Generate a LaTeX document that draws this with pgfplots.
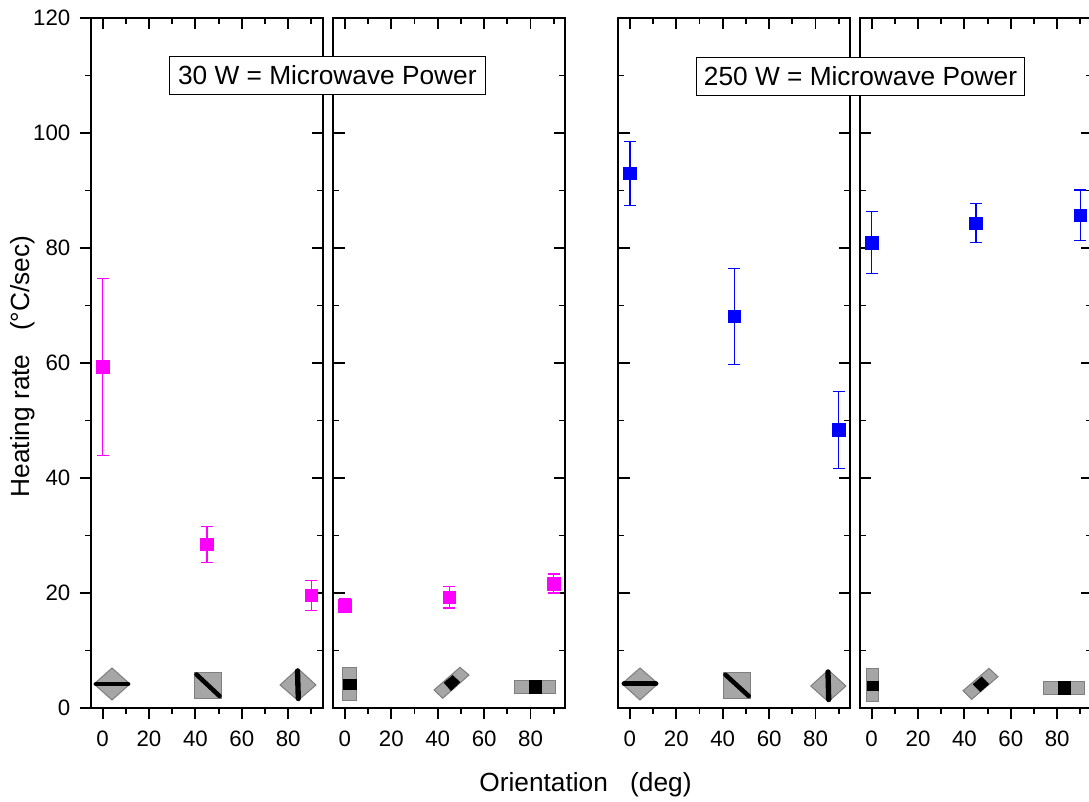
\documentclass[border=0pt]{standalone}
\usepackage{pgfplots}
\pgfplotsset{compat=1.18}
\usepackage{fontspec}
\setmainfont{Liberation Sans}
\newcommand{\bigf}{\fontsize{16.7}{19}\selectfont}
\newcommand{\largef}{\fontsize{19.7}{22}\selectfont}
\definecolor{iconfill}{HTML}{A6A6A6}
\definecolor{iconedge}{HTML}{7F7F7F}
\definecolor{mag}{RGB}{255,0,255}
\definecolor{blu}{RGB}{0,0,255}
\pgfplotsset{
  panelbase/.style={
    scale only axis, width=174pt, height=517.5pt,
    xmin=-5, xmax=95, ymin=0, ymax=120,
    xtick={0,20,40,60,80}, minor xtick={10,30,50,70,90},
    ytick={0,20,40,60,80,100,120}, minor ytick={10,30,50,70,90,110},
    major tick length=8.5pt, minor tick length=4.4pt,
    tick style={black, line width=1.4pt},
    major tick style={black, line width=1.4pt},
    minor tick style={black, line width=1.4pt},
    axis line style={black, line width=1.5pt},
    /pgf/number format/assume math mode=true,
    tick label style={font=\bigf},
    xticklabel style={yshift=-5pt},
    clip=false,
  },
  ticksA/.style={panelbase, xtick pos=bottom, xtick align=outside, ytick pos=left},
  ticksB/.style={panelbase, xtick pos=top, xtick align=inside, ytick pos=right, ytick align=inside,
    xticklabels={}, yticklabels={}},
  pts/.style={only marks, mark=square*, color=#1, draw=#1, fill=#1, mark size=4.7pt,
    mark options={draw=#1, fill=#1},
    error bars/.cd, y dir=both, y explicit,
    error bar style={line width=0.9pt, draw=#1, color=#1},
    error mark options={rotate=90, mark size=4.5pt, line width=0.9pt, draw=#1, color=#1}},
  icon/.style={fill=iconfill, draw=iconedge, line width=0.75pt},
  bar/.style={black, line width=#1, line cap=round},
  blk/.style={fill=black, draw=black, line width=0.2pt},
}
\begin{document}
\begin{tikzpicture}
\path[use as bounding box] (0,0) rectangle (816.75pt,600.75pt);
% Panel 1
\begin{axis}[ticksB, at={(68.25pt,69.75pt)}] \end{axis}
\begin{axis}[ticksA, at={(68.25pt,69.75pt)}, ytick align=outside, yticklabel style={xshift=-3.5pt}]
\addplot[pts=mag] coordinates {(0,59.3) +- (0,15.45) (45,28.45) +- (0,3.15) (90,19.6) +- (0,2.6)};
\end{axis}
% Panel 2
\begin{axis}[ticksB, at={(250pt,69.75pt)}] \end{axis}
\begin{axis}[ticksA, at={(250pt,69.75pt)}, ytick align=inside, yticklabels={}]
\addplot[pts=mag] coordinates {(0,17.8) +- (0,1.25) (45,19.25) +- (0,1.85) (90,21.65) +- (0,1.65)};
\end{axis}
% Panel 3
\begin{axis}[ticksB, at={(463.75pt,69.75pt)}] \end{axis}
\begin{axis}[ticksA, at={(463.75pt,69.75pt)}, ytick align=inside, yticklabels={}]
\addplot[pts=blu] coordinates {(0,93) +- (0,5.55) (45,68.1) +- (0,8.4) (90,48.35) +- (0,6.65)};
\end{axis}
% Panel 4
\begin{axis}[ticksB, at={(645pt,69.75pt)}] \end{axis}
\begin{axis}[ticksA, at={(645pt,69.75pt)}, ytick align=inside, yticklabels={}]
\addplot[pts=blu] coordinates {(0,80.95) +- (0,5.45) (45,84.3) +- (0,3.4) (90,85.7) +- (0,4.4)};
\end{axis}
% Overlay in picture pixels: orientation icons and text
\begin{axis}[scale only axis, width=816.75pt, height=600.75pt, at={(0pt,0pt)},
  hide axis, xmin=0, xmax=1089, ymin=0, ymax=801, y dir=reverse, clip=false]
% panel 1 icons
\addplot[icon] coordinates {(94,684) (112,668) (130,684) (112,700)} -- cycle;
\addplot[bar=3.4pt] coordinates {(96,684) (128,684)};
\addplot[icon] coordinates {(194.5,672.7) (221.3,672.7) (221.3,698) (194.5,698)} -- cycle;
\addplot[bar=3.4pt] coordinates {(196.5,674.5) (219.5,696)};
\addplot[icon] coordinates {(280,685) (298,668.5) (316,685) (298,700.5)} -- cycle;
\addplot[bar=4pt] coordinates {(297.5,671) (298.3,698.5)};
% panel 2 icons
\addplot[icon] coordinates {(342.7,667.5) (356,667.5) (356,700) (342.7,700)} -- cycle;
\addplot[blk] coordinates {(343,679.3) (355.7,679.3) (355.7,689.3) (343,689.3)} -- cycle;
\addplot[icon] coordinates {(460,667.3) (469,675) (442.7,698.3) (434,690)} -- cycle;
\addplot[blk] coordinates {(452.7,675.3) (460,682.3) (451,690.7) (444,682.7)} -- cycle;
\addplot[icon] coordinates {(514,680.3) (555.3,680.3) (555.3,693.3) (514,693.3)} -- cycle;
\addplot[blk] coordinates {(528.7,680.6) (541,680.6) (541,693) (528.7,693)} -- cycle;
% panel 3 icons
\addplot[icon] coordinates {(622,683.7) (640,668) (658,683.7) (640,700)} -- cycle;
\addplot[bar=3.4pt] coordinates {(624,683.7) (656,683.7)};
\addplot[icon] coordinates {(723.3,672.7) (750.7,672.7) (750.7,698) (723.3,698)} -- cycle;
\addplot[bar=3.4pt] coordinates {(725.5,674.8) (748.7,696)};
\addplot[icon] coordinates {(810.7,686) (828.3,670) (846,686) (828.3,701.7)} -- cycle;
\addplot[bar=4pt] coordinates {(828,672) (828.7,699.5)};
% panel 4 icons
\addplot[icon] coordinates {(866.5,668.7) (878.7,668.7) (878.7,701.3) (866.5,701.3)} -- cycle;
\addplot[blk] coordinates {(866.8,680.7) (878.4,680.7) (878.4,690) (866.8,690)} -- cycle;
\addplot[icon] coordinates {(989,668.3) (998,676.7) (971.7,699.3) (963,690.7)} -- cycle;
\addplot[blk] coordinates {(981.7,676.7) (989,684) (980.3,691.7) (973,684.3)} -- cycle;
\addplot[icon] coordinates {(1043,681.3) (1084.7,681.3) (1084.7,694.7) (1043,694.7)} -- cycle;
\addplot[blk] coordinates {(1057.7,681.6) (1070,681.6) (1070,694.4) (1057.7,694.4)} -- cycle;
% text
\node[draw=black, line width=0.9pt, fill=white, font=\largef, minimum width=237pt, minimum height=28.5pt, inner sep=0pt]
  at (axis cs:327.3,75.2) {30 W = Microwave Power};
\node[draw=black, line width=0.9pt, fill=white, font=\largef, minimum width=246pt, minimum height=28.5pt, inner sep=0pt]
  at (axis cs:860.5,76.5) {250 W = Microwave Power};
\node[font=\largef, anchor=center] at (axis cs:585.5,785) {Orientation\hspace{0.85em}(deg)};
\node[font=\largef, anchor=center, rotate=90] at (axis cs:23,366.5) {Heating rate\hspace{0.9em}(°C/sec)};
\end{axis}
\end{tikzpicture}
\end{document}
